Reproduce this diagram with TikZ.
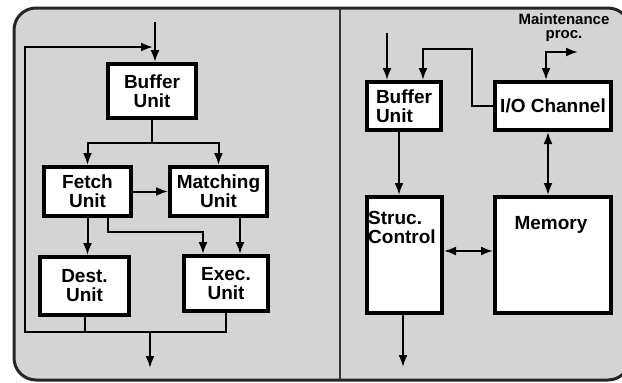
\documentclass[tikz,border=0pt]{standalone}
\usepackage{fontspec}
\setmainfont{Liberation Sans}
\usetikzlibrary{arrows.meta}
\begin{document}
\begin{tikzpicture}[x=1pt,y=-1pt,
  box/.style={draw=black, line width=4pt, fill=white, inner sep=0pt, outer sep=2pt,
    font=\bfseries\fontsize{19}{19}\selectfont, align=center},
  lbl/.style={inner sep=0pt, font=\bfseries\fontsize{19}{19}\selectfont, align=left},
  wire/.style={line width=2pt, draw=black},
  arr/.style={wire, -{Latex[length=12pt,width=9pt]}},
  darr/.style={wire, {Latex[length=12pt,width=9pt]}-{Latex[length=12pt,width=9pt]}}]
\useasboundingbox (0,0) rectangle (622,383);
% background (right edge runs off the page, as in the reference)
\fill[black!17, rounded corners=22pt] (14,8) rectangle (630,380);
\draw[black!85, line width=3pt, rounded corners=22pt] (14,8) rectangle (630,380);
\draw[black!80, line width=2pt] (340,8) -- (340,380);

% left side boxes
\node[box, minimum width=88, minimum height=54] (lbuf) at (152,91) {Buffer\\Unit};
\node[box, minimum width=87, minimum height=49] (fetch) at (87.5,191.5) {Fetch\\Unit};
\node[box, minimum width=97, minimum height=49] (match) at (218.5,191.5) {Matching\\Unit};
\node[box, minimum width=89, minimum height=58] (dest) at (84.5,286) {Dest.\\Unit};
\node[box, minimum width=84, minimum height=55] (exec) at (226,283.5) {Exec.\\Unit};

% right side boxes
\node[box, minimum width=74, minimum height=48, align=left] (rbuf) at (404,106) {Buffer\\Unit};
\node[box, minimum width=116, minimum height=48] (io) at (553,106) {I/O Channel};
\node[box, minimum width=75, minimum height=116] (struc) at (404.5,255) {};
\node[lbl, anchor=north west] (struct) at (368,211) {Struc.\\Control};
\node[box, minimum width=116, minimum height=116] (mem) at (553,255) {};
\node[lbl, anchor=base] (memt) at (551,229) {Memory};
\node[inner sep=0pt, align=center, font=\bfseries\fontsize{15}{14}\selectfont] (maint) at (564,28) {Maintenance\\proc.};

% left connectors
\coordinate (lin) at (155,22);
\draw[arr] (lin) -- (lin |- lbuf.north);
\coordinate (sp) at (152,143);
\draw[arr] (lbuf.south) -- (sp) -| (fetch.north);
\draw[arr] (sp) -| (match.north);
\draw[arr] (fetch.east) -- (match.west);
\draw[arr] (fetch.south) -- (fetch.south |- dest.north);
\coordinate (fe) at (108,0);
\coordinate (fx) at (203,232);
\draw[arr] (fetch.south -| fe) |- (fx) -- (fx |- exec.north);
\coordinate (me) at (240,0);
\draw[arr] (match.south -| me) -- (exec.north -| me);
\coordinate (bot) at (150,332);
\coordinate (bl) at (25,332);
\coordinate (tl) at (25,47);
\coordinate (tr) at (153,47);
\draw[wire] (dest.south) -- (dest.south |- bot);
\draw[arr] (exec.south) -- (exec.south |- bot) -- (bl) -- (tl) -- (tr);
\coordinate (out) at (150,368);
\draw[arr] (bot) -- (out);

% right connectors
\coordinate (rin) at (387,33);
\draw[arr] (rin) -- (rin |- rbuf.north);
\coordinate (c1) at (472,49);
\coordinate (c2) at (423,49);
\draw[arr] (io.west) -| (c1) -- (c2) -- (c2 |- rbuf.north);
\coordinate (m1) at (546,52);
\coordinate (m2) at (578,52);
\draw[darr] (io.north -| m1) -- (m1) -- (m2);
\coordinate (im) at (548,0);
\draw[darr] (io.south -| im) -- (mem.north -| im);
\coordinate (bs) at (399,0);
\draw[arr] (rbuf.south -| bs) -- (struc.north -| bs);
\coordinate (sm) at (0,251);
\draw[darr] (struc.east |- sm) -- (mem.west |- sm);
\coordinate (so) at (403,367);
\draw[arr] (struc.south -| so) -- (so);
\end{tikzpicture}
\end{document}
